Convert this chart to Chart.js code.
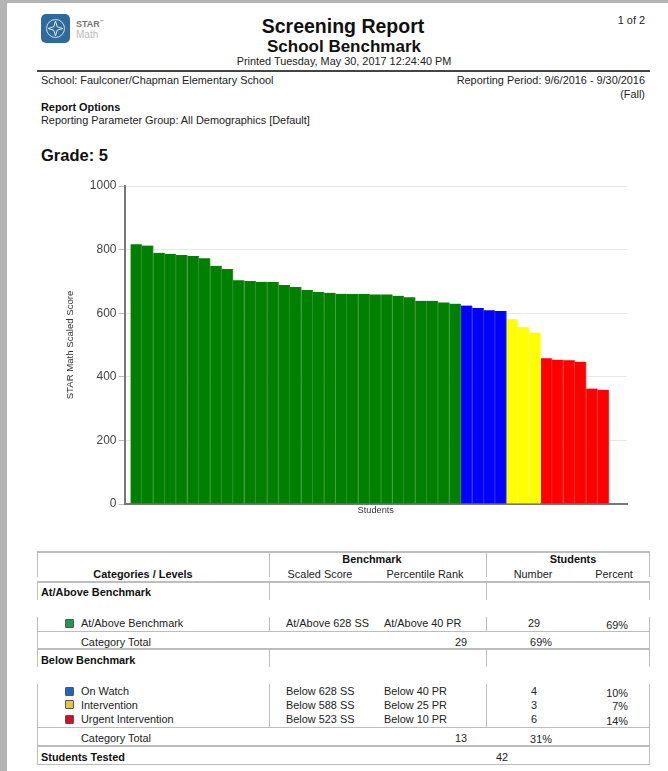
<!DOCTYPE html>
<html><head><meta charset="utf-8">
<script src="https://cdn.jsdelivr.net/npm/chart.js@4"></script>
<style>
html,body{margin:0;padding:0;background:#fff;overflow:hidden}
#page{position:absolute;left:0;top:0;width:668px;height:771px;background:#fff;overflow:hidden;font-family:"Liberation Sans",Arial,sans-serif;color:#222;filter:blur(0.5px)}
.t{position:absolute;white-space:nowrap;font-size:10.9px;line-height:13px;transform:translateY(-50%)}
.c{transform:translate(-50%,-50%)}
.r{transform:translate(-100%,-50%)}
.b{font-weight:bold;color:#111}
.l{position:absolute;background:#bdbdbd}
.sw{position:absolute;width:7px;height:7px;border:1px solid #555;border-radius:1px}
#wrap{position:absolute;left:0;top:170px;width:668px;height:350px}
</style></head><body>
<div id="page">
<div style="position:absolute;left:0;top:0;width:668px;height:3px;background:#b4b4b4"></div>
<div style="position:absolute;left:0;top:0;width:7px;height:771px;background:#b4b4b4"></div>
<div style="position:absolute;left:41px;top:14px;width:29px;height:29px;border-radius:5px;background:#2f6a9c"></div>
<svg style="position:absolute;left:41px;top:14px" width="29" height="29" viewBox="0 0 29 29"><circle cx="14.5" cy="14.5" r="9" fill="none" stroke="#cfe0ec" stroke-width="1"/><path d="M14.5 7L16.2 12.8 22 14.5 16.2 16.2 14.5 22 12.8 16.2 7 14.5 12.8 12.8Z" fill="none" stroke="#dfeaf2" stroke-width="1"/></svg>
<div class="t b" style="left:76px;top:23px;font-size:9px;color:#777">STAR<span style="font-size:4px;vertical-align:super">™</span></div>
<div class="t" style="left:76px;top:34px;font-size:10px;color:#bbb">Math</div>
<div class="t b c" style="left:343px;top:26px;font-size:19.5px;line-height:22px">Screening Report</div>
<div class="t b c" style="left:344px;top:47px;font-size:17px;line-height:18px">School Benchmark</div>
<div class="t c" style="left:344px;top:61px">Printed Tuesday, May 30, 2017 12:24:40 PM</div>
<div class="t r" style="left:645px;top:20px">1 of 2</div>
<div class="l" style="left:37px;top:70px;width:613px;height:2px;background:#444"></div>
<div class="t" style="left:41px;top:80px">School: Faulconer/Chapman Elementary School</div>
<div class="t r" style="left:645px;top:80px">Reporting Period: 9/6/2016 - 9/30/2016</div>
<div class="t r" style="left:645px;top:94px">(Fall)</div>
<div class="t b" style="left:41px;top:107px">Report Options</div>
<div class="t" style="left:41px;top:120px">Reporting Parameter Group: All Demographics [Default]</div>
<div class="t b" style="left:41px;top:155px;font-size:16.5px;line-height:18px">Grade: 5</div>
<div id="wrap"><canvas id="c" width="668" height="350"></canvas></div>
<div id="tbl"></div>
</div>
<script>
const greenScores=[817,813,790,787,783,780,773,749,739,704,701,699,698,689,682,673,667,664,661,660,660,659,659,655,650,639,639,634,630];
const blueScores=[624,616,609,607];
const yellowScores=[581,556,539];
const redScores=[458,454,452,447,363,359];
const yTicks=[0,200,400,600,800,1000];
const yTitle="STAR Math Scaled Score";
const xTitle="Students";
const headerGroups=[["Benchmark",372],["Students",573]];
const headerCols=[["Categories / Levels",143,"b"],["Scaled Score",320,""],["Percentile Rank",425,""],["Number",533,""],["Percent",614,""]];
const levelRows=[
 ["At/Above Benchmark","#1f9a55",623,"At/Above 628 SS","At/Above 40 PR","29","69%"],
 ["On Watch","#1f66c0",691,"Below 628 SS","Below 40 PR","4","10%"],
 ["Intervention","#e8c53a",704.5,"Below 588 SS","Below 25 PR","3","7%"],
 ["Urgent Intervention","#d0121f",719,"Below 523 SS","Below 10 PR","6","14%"]];
const sectionRows=[["At/Above Benchmark",592],["Below Benchmark",660]];
const totalRows=[[641.5,"29","69%"],[738,"13","31%"]];
const studentsTested="42";

const mk=(a,start)=>a.map((v,i)=>({x:start+i,y:v}));
const ds=(a,start,col,edge)=>({data:mk(a,start),backgroundColor:col,borderColor:edge,borderWidth:{left:0,right:1,top:0,bottom:0},barPercentage:1,categoryPercentage:1,grouped:false});
new Chart(document.getElementById('c'),{type:'bar',data:{datasets:[
 ds(greenScores,0,'#007f00','#3a983a'),
 ds(blueScores,greenScores.length,'#0000ff','#3c3cff'),
 ds(yellowScores,greenScores.length+blueScores.length,'#ffff00','#ffff50'),
 ds(redScores,greenScores.length+blueScores.length+yellowScores.length,'#ff0000','#ff4040')
]},options:{responsive:false,animation:false,
 layout:{padding:{left:60,right:41,top:16,bottom:0}},
 plugins:{legend:{display:false},tooltip:{enabled:false}},
 scales:{
  x:{type:'linear',offset:false,min:-1.027,max:43.08,
   afterFit:s=>{s.height=16},
   grid:{display:false},border:{color:'#777',width:2},
   ticks:{display:false},
   title:{display:true,text:xTitle,color:'#333',font:{size:9.2,family:'"Liberation Sans"'},padding:{top:0,bottom:4}}},
  y:{min:0,max:1000,afterBuildTicks:s=>{s.ticks=yTicks.map(v=>({value:v}))},
   afterFit:s=>{s.width=64.5},
   grid:{color:'#e6e6e6',tickColor:'#bbb',tickLength:6},border:{color:'#777',width:2},
   ticks:{color:'#444',font:{size:12,family:'"Liberation Sans"'},padding:2,callback:v=>String(v)},
   title:{display:true,text:yTitle,color:'#333',font:{size:9.6,family:'"Liberation Sans"'},padding:{top:5,bottom:0}}}
 }}});

const T=document.getElementById('tbl');
function txt(s,x,y,cl){const d=document.createElement('div');d.className='t '+(cl||'');d.textContent=s;d.style.left=x+'px';d.style.top=y+'px';T.appendChild(d);}
function ln(x,y,w,h,col){const d=document.createElement('div');d.className='l';d.style.cssText=`left:${x}px;top:${y}px;width:${w}px;height:${h}px;`+(col?`background:${col}`:'');T.appendChild(d);}
[[551,2],[581,2],[631,1],[648,2],[727,1],[745,2],[764,1]].forEach(([y,h])=>ln(37,y,613,h));
[[551,26],[583,17],[617,14],[650,17],[684,44]].forEach(([y,h])=>{[37,269,486,649].forEach(x=>ln(x,y,1,h));});
[[632,16],[728,17],[746,18]].forEach(([y,h])=>{[37,649].forEach(x=>ln(x,y,1,h));});
headerGroups.forEach(([s,x])=>txt(s,x,558.7,'b c'));
headerCols.forEach(([s,x,b])=>txt(s,x,573.5,(b?'b ':'')+'c'));
sectionRows.forEach(([s,y])=>txt(s,41,y,'b'));
levelRows.forEach(([s,col,y,a,b,n,p])=>{
 const w=document.createElement('div');w.className='sw';w.style.cssText=`left:65px;top:${y-4.5}px;background:${col}`;T.appendChild(w);
 txt(s,81,y);txt(a,286,y);txt(b,384,y);txt(n,534,y,'c');txt(p,628,y+1.5,'r');
});
totalRows.forEach(([y,n,p])=>{txt('Category Total',81,y);txt(n,467,y,'r');txt(p,541,y+0.5,'c');});
txt('Students Tested',41,756.5,'b');txt(studentsTested,502,756.5,'c');
</script>
</body></html>
